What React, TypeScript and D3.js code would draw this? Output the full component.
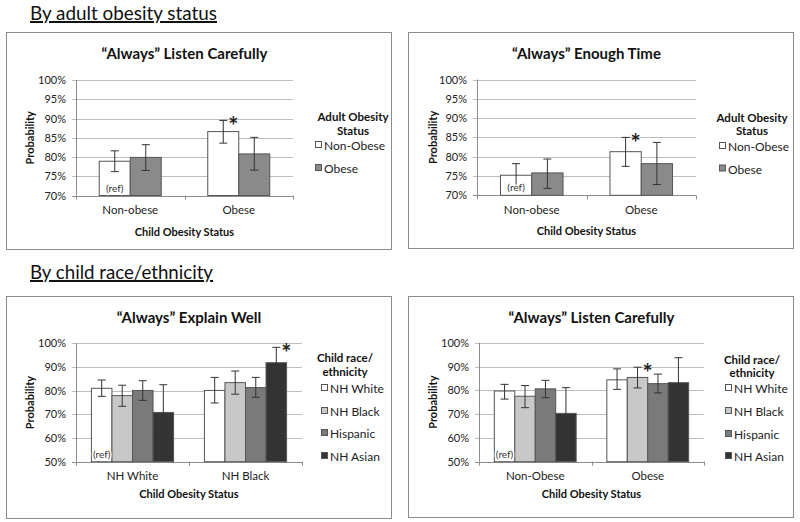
import React from "react";
import * as d3 from "d3";

// ---------- data ----------
const topCategories = ["Non-obese", "Obese"];
const adultSeries = ["Non-Obese", "Obese"];
const topTicks = [70, 75, 80, 85, 90, 95, 100];

// Panel 1: "Always" Listen Carefully (by adult obesity)
const p1NonObese = [78.9, 86.6];
const p1NonObeseLo = [76.2, 83.6];
const p1NonObeseHi = [81.6, 89.5];
const p1Obese = [79.9, 80.8];
const p1ObeseLo = [76.5, 76.6];
const p1ObeseHi = [83.2, 85.1];

// Panel 2: "Always" Enough Time (by adult obesity)
const p2NonObese = [75.2, 81.3];
const p2NonObeseLo = [72.2, 77.5];
const p2NonObeseHi = [78.2, 85.0];
const p2Obese = [75.8, 78.2];
const p2ObeseLo = [71.8, 72.8];
const p2ObeseHi = [79.4, 83.7];

const raceSeries = ["NH White", "NH Black", "Hispanic", "NH Asian"];
const bottomTicks = [50, 60, 70, 80, 90, 100];

// Panel 3: "Always" Explain Well (by race)
const p3Categories = ["NH White", "NH Black"];
const p3White = [81.0, 80.1];
const p3WhiteLo = [77.6, 74.8];
const p3WhiteHi = [84.5, 85.6];
const p3Black = [77.9, 83.4];
const p3BlackLo = [73.4, 78.5];
const p3BlackHi = [82.3, 88.3];
const p3Hispanic = [80.1, 81.3];
const p3HispanicLo = [75.9, 77.2];
const p3HispanicHi = [84.2, 85.6];
const p3Asian = [70.8, 91.8];
const p3AsianLo = [59.0, 85.4];
const p3AsianHi = [82.5, 98.3];

// Panel 4: "Always" Listen Carefully (by race)
const p4Categories = ["Non-Obese", "Obese"];
const p4White = [79.7, 84.4];
const p4WhiteLo = [76.3, 80.4];
const p4WhiteHi = [82.5, 89.0];
const p4Black = [77.5, 85.4];
const p4BlackLo = [72.7, 81.0];
const p4BlackHi = [82.0, 89.7];
const p4Hispanic = [80.6, 82.8];
const p4HispanicLo = [76.9, 78.9];
const p4HispanicHi = [84.2, 86.8];
const p4Asian = [70.3, 83.2];
const p4AsianLo = [59.4, 72.3];
const p4AsianHi = [81.1, 93.7];

// ---------- styles ----------
const FONT = "Lato, 'Open Sans', sans-serif";
const adultColors = ["#ffffff", "#8a8a8a"];
const raceColors = ["#ffffff", "#c8c8c8", "#7a7a7a", "#333333"];

type PanelCfg = {
  box: { x: number; y: number; w: number; h: number };
  plot: { l: number; r: number; t: number; b: number };
  title: string;
  titleY: number;
  domain: [number, number];
  ticks: number[];
  categories: string[];
  series: string[];
  colors: string[];
  values: number[][];
  lo: number[][];
  hi: number[][];
  legendTitle: string[];
  legend: { cx: number; titleY: number[]; sqX: number; itemY: number[] };
  star: { cat: number; ser: number };
  xLabelY: number;
  axisTitleY: number;
  probX: number;
};

function Panel({ cfg }: { cfg: PanelCfg }) {
  const { box, plot } = cfg;
  const y = d3.scaleLinear().domain(cfg.domain).range([plot.b, plot.t]);
  const x0 = d3.scaleBand<string>().domain(cfg.categories).range([plot.l, plot.r]).padding(0);
  const bw = x0.bandwidth();
  const n = cfg.series.length;
  const barW = bw / (n + 1.5);
  const off = 0.75 * barW;
  const x1 = d3.scaleBand<string>().domain(cfg.series).range([off, bw - off]).padding(0);
  const fmt = (v: number) => `${v}%`;
  const cx = (plot.l + plot.r) / 2;
  const boundaries = [plot.l, ...cfg.categories.map((c) => (x0(c) as number) + bw)];
  return (
    <g>
      <rect x={box.x + 0.5} y={box.y + 0.5} width={box.w} height={box.h} fill="#fff" stroke="#8c8c8c" strokeWidth={1} />
      <text x={cx} y={cfg.titleY} textAnchor="middle" fontFamily={FONT} fontWeight="bold" fontSize={15} fill="#111">
        {cfg.title}
      </text>
      {cfg.ticks.map((t) => (
        <g key={t}>
          <line x1={plot.l - 4} x2={plot.r} y1={Math.round(y(t)) + 0.5} y2={Math.round(y(t)) + 0.5} stroke={t === cfg.domain[0] ? "#8c8c8c" : "#bdbdbd"} />
          <text x={plot.l - 10} y={y(t) + 4} textAnchor="end" fontFamily={FONT} fontSize={11} fill="#222">
            {fmt(t)}
          </text>
        </g>
      ))}
      <line x1={plot.l + 0.5} x2={plot.l + 0.5} y1={plot.t} y2={plot.b} stroke="#8c8c8c" />
      {boundaries.map((b, i) => (
        <line key={i} x1={Math.round(b) + 0.5} x2={Math.round(b) + 0.5} y1={plot.b} y2={plot.b + 4} stroke="#8c8c8c" />
      ))}
      {cfg.series.map((s, si) =>
        cfg.categories.map((c, ci) => {
          const bx = (x0(c) as number) + (x1(s) as number);
          const v = cfg.values[si][ci];
          const mx = bx + x1.bandwidth() / 2;
          return (
            <g key={s + c}>
              <rect x={bx} y={y(v)} width={x1.bandwidth()} height={y(cfg.domain[0]) - y(v)} fill={cfg.colors[si]} stroke="#555" strokeWidth={1} />
              <line x1={mx} x2={mx} y1={y(cfg.hi[si][ci])} y2={y(cfg.lo[si][ci])} stroke="#333" strokeWidth={1} />
              <line x1={mx - 4} x2={mx + 4} y1={y(cfg.hi[si][ci])} y2={y(cfg.hi[si][ci])} stroke="#333" strokeWidth={1} />
              <line x1={mx - 4} x2={mx + 4} y1={y(cfg.lo[si][ci])} y2={y(cfg.lo[si][ci])} stroke="#333" strokeWidth={1} />
            </g>
          );
        })
      )}
      {(() => {
        const c = cfg.categories[0];
        const s = cfg.series[0];
        const bx = (x0(c) as number) + (x1(s) as number) + x1.bandwidth() / 2;
        return (
          <text x={bx} y={plot.b - 4} textAnchor="middle" fontFamily={FONT} fontSize={10} fill="#333" stroke="#fff" strokeWidth={3} paintOrder="stroke">
            (ref)
          </text>
        );
      })()}
      {(() => {
        const c = cfg.categories[cfg.star.cat];
        const s = cfg.series[cfg.star.ser];
        const mx = (x0(c) as number) + (x1(s) as number) + x1.bandwidth() / 2;
        return (
          <text x={mx + 10} y={y(cfg.hi[cfg.star.ser][cfg.star.cat]) + 15} textAnchor="middle" fontFamily={FONT} fontWeight="bold" fontSize={24} fill="#222">
            *
          </text>
        );
      })()}
      {cfg.categories.map((c) => (
        <text key={c} x={(x0(c) as number) + bw / 2} y={cfg.xLabelY} textAnchor="middle" fontFamily={FONT} fontSize={11.5} fill="#222">
          {c}
        </text>
      ))}
      <text x={(plot.l + plot.r) / 2} y={cfg.axisTitleY} textAnchor="middle" fontFamily={FONT} fontWeight="bold" fontSize={11} fill="#111">
        Child Obesity Status
      </text>
      <text transform={`translate(${cfg.probX},${(plot.t + plot.b) / 2}) rotate(-90)`} textAnchor="middle" fontFamily={FONT} fontWeight="bold" fontSize={11} fill="#111">
        Probability
      </text>
      {cfg.legendTitle.map((t, i) => (
        <text key={t} x={cfg.legend.cx} y={cfg.legend.titleY[i]} textAnchor="middle" fontFamily={FONT} fontWeight="bold" fontSize={11.5} fill="#111">
          {t}
        </text>
      ))}
      {cfg.series.map((s, i) => (
        <g key={s}>
          <rect x={cfg.legend.sqX + 0.5} y={cfg.legend.itemY[i] - 8.5} width={6} height={6} fill={cfg.colors[i]} stroke="#555" />
          <text x={cfg.legend.sqX + 9} y={cfg.legend.itemY[i]} fontFamily={FONT} fontSize={12} fill="#222">
            {s}
          </text>
        </g>
      ))}
    </g>
  );
}

const panels: PanelCfg[] = [
  {
    box: { x: 6, y: 32, w: 385, h: 217 },
    plot: { l: 76, r: 293, t: 80, b: 195.5 },
    title: "\u201CAlways\u201D Listen Carefully",
    titleY: 59,
    domain: [70, 100],
    ticks: topTicks,
    categories: topCategories,
    series: adultSeries,
    colors: adultColors,
    values: [p1NonObese, p1Obese],
    lo: [p1NonObeseLo, p1ObeseLo],
    hi: [p1NonObeseHi, p1ObeseHi],
    legendTitle: ["Adult Obesity", "Status"],
    legend: { cx: 353, titleY: [121, 134.5], sqX: 315, itemY: [150, 173] },
    star: { cat: 1, ser: 0 },
    xLabelY: 213.5,
    axisTitleY: 236,
    probX: 34,
  },
  {
    box: { x: 408, y: 32, w: 385, h: 216 },
    plot: { l: 477, r: 696, t: 79.5, b: 195.3 },
    title: "\u201CAlways\u201D Enough Time",
    titleY: 59,
    domain: [70, 100],
    ticks: topTicks,
    categories: topCategories,
    series: adultSeries,
    colors: adultColors,
    values: [p2NonObese, p2Obese],
    lo: [p2NonObeseLo, p2ObeseLo],
    hi: [p2NonObeseHi, p2ObeseHi],
    legendTitle: ["Adult Obesity", "Status"],
    legend: { cx: 752, titleY: [122, 135], sqX: 719, itemY: [151, 173.5] },
    star: { cat: 1, ser: 0 },
    xLabelY: 214,
    axisTitleY: 235,
    probX: 437,
  },
  {
    box: { x: 6, y: 296, w: 385, h: 222 },
    plot: { l: 76, r: 302, t: 343.3, b: 461.7 },
    title: "\u201CAlways\u201D Explain Well",
    titleY: 323,
    domain: [50, 100],
    ticks: bottomTicks,
    categories: p3Categories,
    series: raceSeries,
    colors: raceColors,
    values: [p3White, p3Black, p3Hispanic, p3Asian],
    lo: [p3WhiteLo, p3BlackLo, p3HispanicLo, p3AsianLo],
    hi: [p3WhiteHi, p3BlackHi, p3HispanicHi, p3AsianHi],
    legendTitle: ["Child race/", "ethnicity"],
    legend: { cx: 345, titleY: [362, 376], sqX: 321, itemY: [393, 416, 438, 461] },
    star: { cat: 1, ser: 3 },
    xLabelY: 480,
    axisTitleY: 498,
    probX: 34,
  },
  {
    box: { x: 408, y: 296, w: 385, h: 221 },
    plot: { l: 479, r: 704, t: 342.7, b: 461.7 },
    title: "\u201CAlways\u201D Listen Carefully",
    titleY: 323,
    domain: [50, 100],
    ticks: bottomTicks,
    categories: p4Categories,
    series: raceSeries,
    colors: raceColors,
    values: [p4White, p4Black, p4Hispanic, p4Asian],
    lo: [p4WhiteLo, p4BlackLo, p4HispanicLo, p4AsianLo],
    hi: [p4WhiteHi, p4BlackHi, p4HispanicHi, p4AsianHi],
    legendTitle: ["Child race/", "ethnicity"],
    legend: { cx: 752, titleY: [364, 377], sqX: 725, itemY: [393, 416, 439, 461] },
    star: { cat: 1, ser: 1 },
    xLabelY: 480,
    axisTitleY: 498,
    probX: 437,
  },
];

const headings = ["By adult obesity status", "By child race/ethnicity"];
const headingWidths = [187, 183];

export default function App() {
  return (
    <div style={{ position: "absolute", left: 0, top: 0 }}>
      <svg width={800} height={522} viewBox="0 0 800 522" style={{ display: "block", background: "#fff" }}>
        <rect x={0} y={0} width={800} height={522} fill="#fff" />
        {headings.map((h, i) => (
          <text
            key={h}
            x={30}
            y={i === 0 ? 20 : 279}
            fontFamily={FONT}
            fontSize={20}
            fill="#111"
            textDecoration="underline"
            textLength={headingWidths[i]}
            lengthAdjust="spacingAndGlyphs"
          >
            {h}
          </text>
        ))}
        {panels.map((p, i) => (
          <Panel key={i} cfg={p} />
        ))}
      </svg>
    </div>
  );
}
